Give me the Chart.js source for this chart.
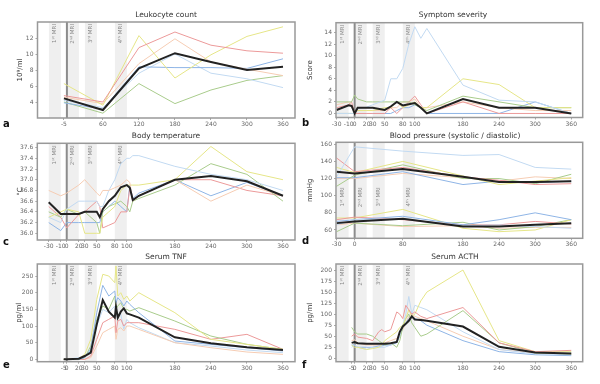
<!DOCTYPE html>
<html><head><meta charset="utf-8">
<script src="https://cdn.jsdelivr.net/npm/chart.js@4/dist/chart.umd.min.js"></script>
<style>
html,body{margin:0;padding:0;background:#fff;}
body{width:600px;height:384px;position:relative;overflow:hidden;}
canvas{position:absolute;}
</style></head><body>
<canvas id="pa"></canvas><canvas id="pb"></canvas><canvas id="pc"></canvas>
<canvas id="pd"></canvas><canvas id="pe"></canvas><canvas id="pf"></canvas>
<script>
// ---------- DATA ----------
const mriBands = [[-30,-10],[0,20],[30,50],[80,100]];
const mriLabels = ['1ˢᵗ MRI','2ⁿᵈ MRI','3ʳᵈ MRI','4ᵗʰ MRI'];

// a: Leukocyte count
const leukoX = [-5, 60, 120, 180, 240, 300, 360];
const leukoMean = [4.45, 3.0, 8.2, 10.1, 9.0, 8.0, 8.4];
const leukoRed = [4.8, 4.0, 10.8, 12.75, 11.1, 10.4, 10.1];
const leukoYellow = [6.3, 3.6, 12.3, 7.0, 9.9, 12.2, 13.4];
const leukoPeach = [4.6, 3.8, 8.8, 11.9, 9.0, 8.1, 7.3];
const leukoBlue = [3.9, 3.1, 8.4, 8.3, 8.3, 8.2, 9.4];
const leukoLightBlue = [4.2, 3.3, 7.6, 10.0, 7.6, 6.9, 5.8];
const leukoGreen = [4.0, 2.6, 6.3, 3.8, 5.5, 6.7, 7.3];
const leukoXTicks = [-5, 60, 120, 180, 240, 300, 360];
const leukoYTicks = [4, 6, 8, 10, 12];

// b: Symptom severity
const sympX = [-30, -10, -5, 0, 5, 20, 30, 50, 60, 70, 80, 90, 100, 110, 120, 180, 240, 300, 360];
const sympMean = [0.6, 1.4, 1.3, 0, 1.0, 1.0, 1.0, 0.6, 1.2, 2.0, 1.4, 1.6, 1.8, 1.0, 0, 2.5, 1.0, 1.0, 0];
const sympLightBlue = [0, 0, 0, 0, 0.8, 1.1, 1.5, 2.3, 6.0, 6.0, 7.8, 12, 15, 13, 14.7, 4.9, 2.3, 2.0, 0];
const sympYellow = [0, 0, 0, 0, 0.5, 0.5, 0.5, 1.0, 1.0, 2.0, 1.0, 1.5, 2.0, 1.0, 1.0, 6.0, 5.0, 1.0, 1.0];
const sympGreen = [2, 2, 2, 3.2, 2.5, 2, 2, 2, 2, 2, 2, 2, 1.5, 1, 0.5, 3, 2, 1, 1];
const sympRed = [1, 1.5, 2, 0, 0, 0, 0, 0, 1, 0, 1, 2, 3, 1.5, 0, 2, 0, 0, 0];
const sympPeach = [1.5, 2, 1, 0.5, 0.5, 0.5, 0.5, 0.5, 1, 1, 2, 2, 2.5, 1, 1, 2, 1, 0.5, 0.5];
const sympBlue = [0, 0, 0, 0, 0, 0, 0, 0, 0, 0.5, 1, 1, 1.5, 1, 0, 0, 0, 2, 0];
const sympXTicks = [-30, -10, 0, 20, 30, 50, 80, 100, 180, 240, 300, 360];
const sympYTicks = [0, 2, 4, 6, 8, 10, 12, 14];

// c: Body temperature
const tempX = [-30, -10, 0, 20, 30, 50, 55, 60, 70, 80, 90, 100, 105, 110, 120, 180, 240, 300, 360];
const tempMean = [36.58, 36.36, 36.36, 36.36, 36.4, 36.4, 36.3, 36.45, 36.6, 36.7, 36.86, 36.9, 36.85, 36.62, 36.7, 37.0, 37.07, 36.97, 36.7];
const tempPeach = [36.8, 36.7, 36.75, 36.9, 37.0, 36.75, 36.7, 36.8, 36.8, 36.85, 36.9, 37.0, 36.95, 36.6, 36.7, 37.0, 36.6, 36.9, 36.7];
const tempLightBlue = [36.3, 36.2, 36.45, 36.6, 36.6, 36.6, 36.5, 36.5, 36.8, 37.0, 37.3, 37.4, 37.4, 37.45, 37.45, 37.25, 37.1, 37.0, 36.8];
const tempYellow = [36.3, 36.4, 36.45, 36.4, 36.0, 36.0, 36.0, 36.3, 36.4, 36.5, 36.8, 36.9, 36.9, 36.9, 36.9, 37.0, 37.62, 37.15, 37.0];
const tempGreen = [36.4, 36.3, 36.45, 36.35, 36.4, 36.2, 36.0, 36.4, 36.5, 36.55, 36.6, 36.5, 36.4, 36.6, 36.65, 36.9, 37.3, 37.1, 36.6];
const tempRed = [36.5, 36.3, 36.1, 36.35, 36.4, 36.6, 36.5, 36.1, 36.15, 36.2, 36.4, 36.4, 36.85, 36.6, 36.7, 37.0, 37.0, 36.8, 36.7];
const tempBlue = [36.2, 36.05, 36.2, 36.2, 36.2, 36.2, 36.2, 36.4, 36.5, 36.6, 36.5, 36.4, 36.9, 36.65, 36.75, 37.0, 36.7, 36.95, 36.7];
const tempXTicks = [-30, -10, 0, 20, 30, 50, 80, 100, 180, 240, 300, 360];
const tempYTicks = [36.0, 36.2, 36.4, 36.6, 36.8, 37.0, 37.2, 37.4, 37.6];

// d: Blood pressure
const bpX = [-30, 0, 80, 180, 240, 300, 360];
const sysMean = [128, 126, 131, 122, 116, 116, 117];
const diaMean = [68, 70, 73, 64, 64, 66, 68];
const sysLightBlue = [122, 157, 152, 147, 148, 133, 131];
const sysRed = [144, 128, 133, 122, 118, 113, 114];
const sysYellow = [133, 127, 140, 123, 113, 117, 121];
const sysGreen = [111, 124, 136, 120, 120, 114, 125];
const sysBlue = [121, 121, 128, 113, 117, 115, 117];
const sysPeach = [120, 120, 126, 121, 117, 122, 120];
const diaLightBlue = [66, 72, 73, 65, 66, 64, 62];
const diaBlue = [70, 72, 76, 66, 72, 80, 72];
const diaRed = [72, 75, 72, 66, 66, 70, 67];
const diaYellow = [74, 74, 84, 62, 58, 60, 72];
const diaGreen = [58, 68, 65, 69, 60, 64, 72];
const diaPeach = [66, 68, 64, 65, 62, 63, 63];
const bpXTicks = [-30, 0, 80, 180, 240, 300, 360];
const bpYTicks = [60, 80, 100, 120, 140, 160];

// e: Serum TNF
const tnfX = [-5, 0, 20, 30, 40, 50, 60, 70, 80, 82, 85, 90, 95, 100, 105, 120, 180, 240, 300, 360];
const tnfMean = [0, 0, 2, 10, 20, 105, 178, 143, 125, 158, 125, 143, 153, 138, 135, 125, 66, 48, 36, 28];
const tnfYellow = [0, 0, 2, 15, 60, 180, 255, 250, 230, 280, 190, 200, 180, 190, 175, 200, 140, 60, 45, 30];
const tnfBlue = [0, 0, 0, 5, 30, 140, 222, 190, 205, 170, 185, 175, 160, 175, 165, 140, 55, 45, 35, 25];
const tnfGreen = [0, 0, 0, 5, 40, 120, 160, 150, 190, 150, 160, 170, 150, 150, 145, 155, 115, 70, 45, 30];
const tnfRed = [0, 0, 0, 0, 10, 60, 110, 120, 130, 80, 115, 120, 100, 110, 110, 110, 90, 60, 75, 30];
const tnfPeach = [0, 0, 0, 0, 5, 40, 80, 90, 100, 60, 90, 95, 85, 100, 100, 90, 50, 35, 22, 15];
const tnfLightBlue = [0, 0, 5, 10, 30, 100, 150, 140, 160, 130, 130, 135, 90, 120, 110, 95, 50, 40, 28, 20];
const tnfXTicks = [-5, 0, 20, 30, 50, 80, 100, 180, 240, 300, 360];
const tnfYTicks = [0, 50, 100, 150, 200, 250];

// f: Serum ACTH
const acthX = [-5, 0, 5, 20, 30, 40, 45, 50, 60, 70, 75, 80, 85, 90, 95, 100, 110, 120, 180, 240, 300, 360];
const acthMean = [35, 37, 34, 33, 33, 33, 33, 33, 34, 37, 60, 72, 78, 85, 95, 88, 87, 85, 72, 26, 13, 11];
const acthRed = [50, 55, 48, 45, 40, 60, 65, 60, 65, 105, 100, 90, 120, 110, 100, 105, 95, 90, 115, 35, 15, 18];
const acthYellow = [30, 25, 25, 20, 22, 25, 30, 40, 50, 60, 70, 75, 90, 110, 95, 100, 130, 150, 200, 40, 15, 15];
const acthGreen = [70, 60, 55, 55, 50, 40, 35, 30, 35, 25, 40, 70, 90, 100, 80, 70, 50, 55, 108, 35, 12, 10];
const acthLightBlue = [25, 30, 25, 20, 25, 25, 25, 25, 30, 40, 50, 75, 100, 140, 100, 120, 115, 110, 60, 20, 10, 8];
const acthBlue = [30, 30, 25, 25, 25, 28, 28, 30, 30, 35, 50, 70, 80, 90, 95, 90, 85, 75, 40, 15, 8, 6];
const acthPeach = [40, 42, 35, 30, 30, 30, 30, 35, 40, 45, 55, 65, 80, 95, 100, 95, 90, 85, 50, 20, 12, 10];
const acthXTicks = [-5, 0, 20, 30, 50, 80, 100, 180, 240, 300, 360];
const acthYTicks = [0, 25, 50, 75, 100, 125, 150, 175, 200];

// ---------- STYLE ----------
const C = {mean:'#222222', red:'#ec9a9a', yellow:'#e6e688', peach:'#f6cdb4', blue:'#8fb5e6', lblue:'#c2daf2', green:'#a9cc8c'};
const FONT = '"DejaVu Sans", sans-serif';
Chart.defaults.font.family = FONT;

function ds(xs, ys, color, w){
  return {data: xs.map((x,i)=>({x:x, y:ys[i]})), borderColor:color, borderWidth:w||1,
          pointRadius:0, tension:0, fill:false};
}

const deco = {
  id:'deco',
  beforeDatasetsDraw(chart, args, o){
    const ctx = chart.ctx, a = chart.chartArea, x = chart.scales.x;
    ctx.save();
    ctx.fillStyle = '#efefef';
    mriBands.forEach(b=>{
      const x0 = x.getPixelForValue(b[0]), x1 = x.getPixelForValue(b[1]);
      ctx.fillRect(x0, a.top, x1-x0, a.bottom-a.top);
    });
    ctx.fillStyle = '#8a8a8a';
    ctx.font = '5.5px ' + FONT;
    ctx.textAlign = 'right'; ctx.textBaseline = 'middle';
    mriBands.forEach((b,i)=>{
      const cx = (x.getPixelForValue(b[0]) + x.getPixelForValue(b[1]))/2;
      ctx.save(); ctx.translate(cx, a.top + o.labelTop); ctx.rotate(-Math.PI/2);
      ctx.fillText(mriLabels[i], 0, 0); ctx.restore();
    });
    const z = x.getPixelForValue(0);
    ctx.strokeStyle = '#8c8c8c'; ctx.lineWidth = 2;
    ctx.beginPath(); ctx.moveTo(z, a.top); ctx.lineTo(z, a.bottom); ctx.stroke();
    ctx.restore();
  },
  afterDraw(chart, args, o){
    const ctx = chart.ctx, a = chart.chartArea;
    ctx.save();
    ctx.strokeStyle = '#999999'; ctx.lineWidth = 1.5;
    ctx.strokeRect(a.left, a.top, a.right-a.left, a.bottom-a.top);
    ctx.fillStyle = '#333';
    ctx.font = '7.5px ' + FONT; ctx.textAlign = 'center'; ctx.textBaseline = 'middle';
    ctx.fillText(o.title, o.titleX, o.titleY);
    ctx.font = '7px ' + FONT;
    ctx.save(); ctx.translate(o.ylabX, (a.top+a.bottom)/2); ctx.rotate(-Math.PI/2);
    ctx.fillText(o.ylab, 0, 0); ctx.restore();
    ctx.fillStyle = '#111'; ctx.font = 'bold 10px ' + FONT; ctx.textAlign = 'left';
    ctx.fillText(o.letter, o.letX, o.letY);
    ctx.restore();
  }
};

function makeChart(id, g, xr, xt, yr, yt, datasets, d, fmt){
  const cv = document.getElementById(id);
  cv.width = g.w; cv.height = g.h;
  cv.style.left = g.l + 'px'; cv.style.top = g.t + 'px';
  cv.style.width = g.w + 'px'; cv.style.height = g.h + 'px';
  new Chart(cv, {
    type:'line',
    data:{datasets:datasets},
    plugins:[deco],
    options:{
      responsive:false, animation:false, devicePixelRatio:1,
      layout:{padding:{left:0, right:g.pr, top:g.pt, bottom:g.pb}},
      plugins:{legend:{display:false}, tooltip:{enabled:false}, title:{display:false}, deco:d},
      scales:{
        x:{type:'linear', min:xr[0], max:xr[1],
           afterBuildTicks(s){ s.ticks = xt.map(v=>({value:v})); },
           afterFit(s){ s.height = 10; },
           grid:{display:true, drawOnChartArea:false, drawTicks:true, tickLength:2, color:'#aaa'},
           border:{display:false},
           ticks:{autoSkip:false, maxRotation:0, minRotation:0, padding:1, color:'#666', font:{size:6}}},
        y:{type:'linear', min:yr[0], max:yr[1],
           afterBuildTicks(s){ s.ticks = yt.map(v=>({value:v})); },
           afterFit(s){ s.width = g.yw; },
           grid:{display:true, drawOnChartArea:false, drawTicks:true, tickLength:2, color:'#aaa'},
           border:{display:false},
           ticks:{padding:2, color:'#666', font:{size:6}, callback: fmt || (v=>String(v))}}
      }
    }
  });
}

// a
makeChart('pa', {l:0,t:0,w:300,h:130,yw:37.5,pr:5,pt:22,pb:2}, [-49,380], leukoXTicks, [2,14], leukoYTicks,
  [ds(leukoX,leukoMean,C.mean,2), ds(leukoX,leukoRed,C.red), ds(leukoX,leukoYellow,C.yellow),
   ds(leukoX,leukoPeach,C.peach), ds(leukoX,leukoBlue,C.blue), ds(leukoX,leukoLightBlue,C.lblue),
   ds(leukoX,leukoGreen,C.green)],
  {title:'Leukocyte count', titleX:166, titleY:15, ylab:'10⁹/ml', ylabX:20, letter:'a', letX:3, letY:124, labelTop:2});

// b
makeChart('pb', {l:300,t:0,w:300,h:130,yw:36,pr:17.3,pt:22.7,pb:2.5}, [-31,379], sympXTicks, [-0.7,15.7], sympYTicks,
  [ds(sympX,sympMean,C.mean,2), ds(sympX,sympLightBlue,C.lblue), ds(sympX,sympYellow,C.yellow),
   ds(sympX,sympGreen,C.green), ds(sympX,sympRed,C.red), ds(sympX,sympPeach,C.peach), ds(sympX,sympBlue,C.blue)],
  {title:'Symptom severity', titleX:153, titleY:15, ylab:'Score', ylabX:10, letter:'b', letX:2, letY:123, labelTop:2});

// c
makeChart('pc', {l:0,t:128,w:300,h:124,yw:37.3,pr:5,pt:15.3,pb:2}, [-49,380], tempXTicks, [35.875,37.68], tempYTicks,
  [ds(tempX,tempMean,C.mean,2), ds(tempX,tempPeach,C.peach), ds(tempX,tempLightBlue,C.lblue),
   ds(tempX,tempYellow,C.yellow), ds(tempX,tempGreen,C.green), ds(tempX,tempRed,C.red), ds(tempX,tempBlue,C.blue)],
  {title:'Body temperature', titleX:166, titleY:8, ylab:'°C', ylabX:20, letter:'c', letX:3, letY:114, labelTop:2},
  v=>v.toFixed(1));

// d
makeChart('pd', {l:300,t:128,w:300,h:124,yw:36,pr:17.3,pt:14.3,pb:3.7}, [-31,379], bpXTicks, [50.3,162.3], bpYTicks,
  [ds(bpX,sysMean,C.mean,2), ds(bpX,diaMean,C.mean,2),
   ds(bpX,sysLightBlue,C.lblue), ds(bpX,sysRed,C.red), ds(bpX,sysYellow,C.yellow), ds(bpX,sysGreen,C.green),
   ds(bpX,sysBlue,C.blue), ds(bpX,sysPeach,C.peach),
   ds(bpX,diaLightBlue,C.lblue), ds(bpX,diaBlue,C.blue), ds(bpX,diaRed,C.red), ds(bpX,diaYellow,C.yellow),
   ds(bpX,diaGreen,C.green), ds(bpX,diaPeach,C.peach)],
  {title:'Blood pressure (systolic / diastolic)', titleX:155, titleY:8, ylab:'mmHg', ylabX:10, letter:'d', letX:2, letY:113, labelTop:45});

// e
makeChart('pe', {l:0,t:252,w:300,h:124,yw:37.3,pr:5,pt:12,pb:4.3}, [-49,380], tnfXTicks, [-7,286], tnfYTicks,
  [ds(tnfX,tnfMean,C.mean,2), ds(tnfX,tnfYellow,C.yellow), ds(tnfX,tnfBlue,C.blue), ds(tnfX,tnfGreen,C.green),
   ds(tnfX,tnfRed,C.red), ds(tnfX,tnfPeach,C.peach), ds(tnfX,tnfLightBlue,C.lblue)],
  {title:'Serum TNF', titleX:166, titleY:5, ylab:'pg/ml', ylabX:19, letter:'e', letX:3, letY:113, labelTop:2});

// f
makeChart('pf', {l:300,t:252,w:300,h:124,yw:36,pr:17.3,pt:12,pb:4.3}, [-31,379], acthXTicks, [-7.7,213.6], acthYTicks,
  [ds(acthX,acthMean,C.mean,2), ds(acthX,acthRed,C.red), ds(acthX,acthYellow,C.yellow), ds(acthX,acthGreen,C.green),
   ds(acthX,acthLightBlue,C.lblue), ds(acthX,acthBlue,C.blue), ds(acthX,acthPeach,C.peach)],
  {title:'Serum ACTH', titleX:155, titleY:5, ylab:'pg/ml', ylabX:10, letter:'f', letX:2, letY:113, labelTop:2});
</script>
</body></html>
